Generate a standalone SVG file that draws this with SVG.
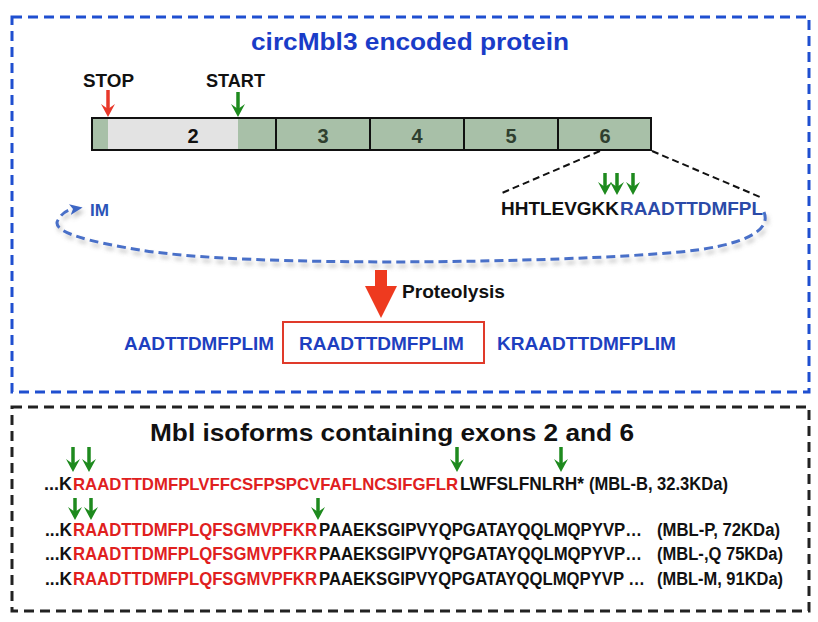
<svg xmlns="http://www.w3.org/2000/svg" xmlns:xlink="http://www.w3.org/1999/xlink" width="818" height="622" viewBox="0 0 818 622">
<style>
text{font-family:"Liberation Sans",Arial,sans-serif;font-weight:bold}
.blue{fill:#1e3fc0}
.red{fill:#e0201e}
.blk{fill:#111}
.seq{font-size:17.5px}
.exn{font-size:20px;text-anchor:middle}
</style>
<defs>
<filter id="sh" x="-10%" y="-50%" width="120%" height="200%">
<feDropShadow dx="2" dy="4" stdDeviation="2" flood-color="#777" flood-opacity="0.45"/>
</filter>
<marker id="bh" markerWidth="13" markerHeight="12" refX="3" refY="5" orient="auto" markerUnits="userSpaceOnUse" viewBox="0 0 12 10">
<path d="M0,0 L12,5 L0,10 L3,5 Z" fill="#3d66c4"/>
</marker>
<g id="gArrow">
<line x1="0" y1="-25" x2="0" y2="-7" stroke="#1e8a1e" stroke-width="3.5"/>
<path d="M-7,-13 L0,0 L7,-13 L0,-8 Z" fill="#1e8a1e"/>
</g>
<g id="gArrowS">
<line x1="0" y1="-22" x2="0" y2="-7" stroke="#1e8a1e" stroke-width="3.5"/>
<path d="M-7,-13 L0,0 L7,-13 L0,-8 Z" fill="#1e8a1e"/>
</g>
<g id="rArrow">
<line x1="0" y1="-27" x2="0" y2="-7" stroke="#e8382a" stroke-width="3.5"/>
<path d="M-7,-13 L0,0 L7,-13 L0,-8 Z" fill="#e8382a"/>
</g>
</defs>
<rect width="818" height="622" fill="#fff"/>

<g id="top-panel">
<rect x="12" y="17" width="797" height="375" fill="none" stroke="#1f4fd0" stroke-width="3" stroke-dasharray="10 6"/>
<text x="410" y="50" font-size="23" text-anchor="middle" fill="#1a3cc8" textLength="318" lengthAdjust="spacingAndGlyphs">circMbl3 encoded protein</text>
</g>

<g id="exon-bar">
<rect x="92" y="118" width="559" height="32" fill="#a8c0a8" stroke="#111" stroke-width="2"/>
<rect x="108" y="119" width="130" height="30" fill="#e3e3e3"/>
<line x1="276" y1="118" x2="276" y2="150" stroke="#111" stroke-width="2"/>
<line x1="370" y1="118" x2="370" y2="150" stroke="#111" stroke-width="2"/>
<line x1="464" y1="118" x2="464" y2="150" stroke="#111" stroke-width="2"/>
<line x1="558" y1="118" x2="558" y2="150" stroke="#111" stroke-width="2"/>
<text class="exn" x="193" y="143" fill="#111">2</text>
<text class="exn" x="323" y="143" fill="#2f3f2f">3</text>
<text class="exn" x="417" y="143" fill="#2f3f2f">4</text>
<text class="exn" x="511" y="143" fill="#2f3f2f">5</text>
<text class="exn" x="605" y="143" fill="#2f3f2f">6</text>
</g>

<g id="stop-label"><text x="83" y="87" font-size="18" class="blk" textLength="51" lengthAdjust="spacingAndGlyphs">STOP</text></g>
<g id="start-label"><text x="206" y="87" font-size="18" class="blk" textLength="59" lengthAdjust="spacingAndGlyphs">START</text></g>

<g id="exon6-seq">
<text x="501" y="215" font-size="18" class="blk" textLength="118" lengthAdjust="spacingAndGlyphs">HHTLEVGKK</text>
<text x="620" y="215" font-size="18" fill="#2b4aa8" textLength="143" lengthAdjust="spacingAndGlyphs">RAADTTDMFPL</text>
</g>

<g id="im-label"><text x="90" y="216" font-size="17" fill="#2b54b8" textLength="19" lengthAdjust="spacingAndGlyphs">IM</text></g>

<g id="proteolysis-label"><text x="402" y="298" font-size="18" class="blk" textLength="103" lengthAdjust="spacingAndGlyphs">Proteolysis</text></g>

<g id="peptides">
<text x="124" y="350" font-size="18" class="blue" textLength="150" lengthAdjust="spacingAndGlyphs">AADTTDMFPLIM</text>
<rect x="283" y="322" width="201" height="41" fill="none" stroke="#e03a2a" stroke-width="2"/>
<text x="299" y="350" font-size="18" class="blue" textLength="165" lengthAdjust="spacingAndGlyphs">RAADTTDMFPLIM</text>
<text x="497" y="350" font-size="18" class="blue" textLength="179" lengthAdjust="spacingAndGlyphs">KRAADTTDMFPLIM</text>
</g>

<g id="bottom-panel">
<rect x="12" y="407" width="797" height="204" fill="none" stroke="#222" stroke-width="3" stroke-dasharray="10 6"/>
<text x="150" y="441" font-size="24" class="blk" textLength="484" lengthAdjust="spacingAndGlyphs">Mbl isoforms containing exons 2 and 6</text>
</g>

<g id="row-mbl-b" class="seq">
<text x="44" y="490" class="blk" textLength="28" lengthAdjust="spacingAndGlyphs">...K</text>
<text x="73" y="490" class="red" font-size="16.6" textLength="385" lengthAdjust="spacingAndGlyphs">RAADTTDMFPLVFFCSFPSPCVFAFLNCSIFGFLR</text>
<text x="460" y="490" class="blk" textLength="124" lengthAdjust="spacingAndGlyphs">LWFSLFNLRH*</text>
<text x="589" y="490" class="blk" textLength="139" lengthAdjust="spacingAndGlyphs">(MBL-B, 32.3KDa)</text>
</g>
<g id="row-mbl-p" class="seq">
<text x="45" y="536" class="blk" textLength="27" lengthAdjust="spacingAndGlyphs">...K</text>
<text x="73" y="536" class="red" textLength="244" lengthAdjust="spacingAndGlyphs">RAADTTDMFPLQFSGMVPFKR</text>
<text x="319" y="536" class="blk" textLength="323" lengthAdjust="spacingAndGlyphs">PAAEKSGIPVYQPGATAYQQLMQPYVP…</text>
<text x="657" y="536" class="blk" textLength="123" lengthAdjust="spacingAndGlyphs">(MBL-P, 72KDa)</text>
</g>
<g id="row-mbl-q" class="seq">
<text x="45" y="560" class="blk" textLength="27" lengthAdjust="spacingAndGlyphs">...K</text>
<text x="73" y="560" class="red" textLength="244" lengthAdjust="spacingAndGlyphs">RAADTTDMFPLQFSGMVPFKR</text>
<text x="319" y="560" class="blk" textLength="323" lengthAdjust="spacingAndGlyphs">PAAEKSGIPVYQPGATAYQQLMQPYVP…</text>
<text x="657" y="560" class="blk" textLength="126" lengthAdjust="spacingAndGlyphs">(MBL-,Q 75KDa)</text>
</g>
<g id="row-mbl-m" class="seq">
<text x="45" y="585" class="blk" textLength="27" lengthAdjust="spacingAndGlyphs">...K</text>
<text x="73" y="585" class="red" textLength="244" lengthAdjust="spacingAndGlyphs">RAADTTDMFPLQFSGMVPFKR</text>
<text x="319" y="585" class="blk" textLength="326" lengthAdjust="spacingAndGlyphs">PAAEKSGIPVYQPGATAYQQLMQPYVP …</text>
<text x="657" y="585" class="blk" textLength="126" lengthAdjust="spacingAndGlyphs">(MBL-M, 91KDa)</text>
</g>

<g id="connectors">
<use xlink:href="#rArrow" transform="translate(108,117)"/>
<use xlink:href="#gArrow" transform="translate(238,117)"/>
<line x1="600" y1="151" x2="502" y2="193" stroke="#111" stroke-width="2" stroke-dasharray="7 4"/>
<line x1="652" y1="151" x2="760" y2="197" stroke="#111" stroke-width="2" stroke-dasharray="7 4"/>
<use xlink:href="#gArrowS" transform="translate(605,195)"/>
<use xlink:href="#gArrowS" transform="translate(617,195)"/>
<use xlink:href="#gArrowS" transform="translate(633,195)"/>
<path d="M764,212 C772,232 740,246 680,252 C560,263 250,268 140,250 C90,242 50,232 58,220 C62,213 67,210 73,209" fill="none" stroke="#4a70c8" stroke-width="3" stroke-dasharray="9 5" marker-end="url(#bh)" filter="url(#sh)"/>
<path d="M375,270 L387,270 L387,286 L397,286 L381,318 L365,286 L375,286 Z" fill="#ee3a1f"/>
<use xlink:href="#gArrow" transform="translate(73,472)"/>
<use xlink:href="#gArrow" transform="translate(89,472)"/>
<use xlink:href="#gArrow" transform="translate(457,472)"/>
<use xlink:href="#gArrow" transform="translate(561,472)"/>
<use xlink:href="#gArrowS" transform="translate(75,520)"/>
<use xlink:href="#gArrowS" transform="translate(91,520)"/>
<use xlink:href="#gArrowS" transform="translate(318,520)"/>
</g>
</svg>
